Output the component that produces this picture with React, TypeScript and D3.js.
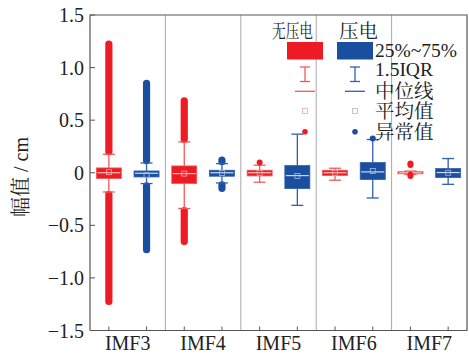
import React from 'react';
import * as d3 from 'd3';

const categories = ['IMF3', 'IMF4', 'IMF5', 'IMF6', 'IMF7'];
const seriesNames = ['无压电', '压电'];
const seriesColors = ['#ED1C24', '#1A4F9F'];
const whiskerColors = ['#F25A5A', '#2F5FAE'];
const medianColors = ['#F9C4C4', '#CFDBF2'];
const meanColors = ['#F7A8A8', '#A9B8E0'];

// 无压电 (red)
const redWhiskerLow = [-0.183, -0.34, -0.09, -0.071, -0.016];
const redQ1 = [-0.055, -0.103, -0.03, -0.027, -0.01];
const redMedian = [0, -0.008, 0, 0, 0];
const redQ3 = [0.046, 0.065, 0.024, 0.024, 0.01];
const redWhiskerHigh = [0.176, 0.293, 0.072, 0.043, 0.016];
const redMean = [0.005, -0.008, 0, 0, 0];
const redOutlierBands = [[[0.195, 1.23], [-1.23, -0.2]], [[0.31, 0.69], [-0.66, -0.355]], [], [], []];
const redOutliers = [[], [], [0.097], [], [0.088, 0.074, -0.02, -0.03]];

// 压电 (blue)
const blueWhiskerLow = [-0.103, -0.097, -0.31, -0.24, -0.11];
const blueQ1 = [-0.04, -0.033, -0.151, -0.065, -0.046];
const blueMedian = [-0.005, 0, -0.027, 0.008, 0.002];
const blueQ3 = [0.017, 0.024, 0.068, 0.097, 0.04];
const blueWhiskerHigh = [0.093, 0.087, 0.367, 0.316, 0.135];
const blueMean = [-0.024, -0.003, -0.03, 0.017, 0];
const blueOutlierBands = [[[0.11, 0.855], [-0.738, -0.12]], [[0.1, 0.126], [-0.154, -0.11]], [], [], []];
const blueOutliers = [[], [], [], [0.326], []];

const yTicks = [-1.5, -1.0, -0.5, 0, 0.5, 1.0, 1.5];
const yTickLabels = ['−1.5', '−1.0', '−0.5', '0', '0.5', '1.0', '1.5'];
const legendLabels = ['25%~75%', '1.5IQR', '中位线', '平均值', '异常值'];

const W = 469, H = 354;
const M = { left: 90, right: 467, top: 15, bottom: 330.5 };
const FONT = '"Liberation Serif", "Times New Roman", "Noto Serif CJK SC", "Noto Sans CJK SC", serif';

const stats = [
  { wl: redWhiskerLow, q1: redQ1, med: redMedian, q3: redQ3, wh: redWhiskerHigh, mean: redMean, bands: redOutlierBands, pts: redOutliers },
  { wl: blueWhiskerLow, q1: blueQ1, med: blueMedian, q3: blueQ3, wh: blueWhiskerHigh, mean: blueMean, bands: blueOutlierBands, pts: blueOutliers },
];

export default function App() {
  const x = d3.scaleBand<string>().domain(categories).range([M.left, M.right]).padding(0);
  const xs = d3.scalePoint<string>().domain(seriesNames).range([0, x.bandwidth()]).padding(0.5);
  const y = d3.scaleLinear().domain([-1.5, 1.5]).range([M.bottom, M.top]);
  const boxW = 25;
  const capW = 12;

  const boxes: React.ReactNode[] = [];
  categories.forEach((c, ci) => {
    seriesNames.forEach((s, si) => {
      const st = stats[si];
      const cx = (x(c) as number) + (xs(s) as number);
      const col = seriesColors[si];
      const wc = whiskerColors[si];
      const key = `${ci}-${si}`;
      (st.bands[ci] as number[][]).forEach((b, bi) => {
        const y0 = y(Math.max(b[0], b[1]));
        const y1 = y(Math.min(b[0], b[1]));
        boxes.push(<rect key={`band${key}-${bi}`} x={cx - 3.6} y={y0 - 3} width={7.2} height={y1 - y0 + 6} rx={3.6} fill={col} />);
      });
      boxes.push(
        <g key={`wh${key}`} stroke={wc} strokeWidth={1.3} fill="none">
          <line x1={cx} x2={cx} y1={y(st.wh[ci])} y2={y(st.q3[ci])} />
          <line x1={cx} x2={cx} y1={y(st.q1[ci])} y2={y(st.wl[ci])} />
          <line x1={cx - capW / 2} x2={cx + capW / 2} y1={y(st.wh[ci])} y2={y(st.wh[ci])} />
          <line x1={cx - capW / 2} x2={cx + capW / 2} y1={y(st.wl[ci])} y2={y(st.wl[ci])} />
        </g>
      );
      const yq3 = y(st.q3[ci]);
      const yq1 = y(st.q1[ci]);
      boxes.push(<rect key={`box${key}`} x={cx - boxW / 2} y={yq3} width={boxW} height={Math.max(yq1 - yq3, 1)} fill={col} stroke={wc} strokeWidth={0.8} />);
      boxes.push(<line key={`med${key}`} x1={cx - boxW / 2 + 1} x2={cx + boxW / 2 - 1} y1={y(st.med[ci])} y2={y(st.med[ci])} stroke={medianColors[si]} strokeWidth={1.2} />);
      boxes.push(<rect key={`mean${key}`} x={cx - 2.5} y={y(st.mean[ci]) - 2.5} width={5} height={5} fill="none" stroke={meanColors[si]} strokeWidth={0.8} />);
      (st.pts[ci] as number[]).forEach((v, pi) => {
        boxes.push(<circle key={`pt${key}-${pi}`} cx={cx} cy={y(v)} r={3} fill={col} />);
      });
    });
  });

  const separators = categories.slice(1).map((c) => x(c) as number);
  const legendX = [305, 355];

  return (
    <svg width={W} height={H} style={{ position: 'absolute', left: 0, top: 0, background: '#fff' }} fontFamily={FONT}>
      <rect x={0} y={0} width={W} height={H} fill="#fff" />
      {separators.map((sx, i) => (
        <line key={`sep${i}`} x1={sx} x2={sx} y1={M.top} y2={M.bottom} stroke="#A8A8A8" strokeWidth={1} />
      ))}
      <path d={`M${M.left},${M.bottom}V${M.top}H${M.right}V${M.bottom}H${M.left}`} fill="none" stroke="#555" strokeWidth={1.2} />
      {yTicks.map((t, i) => (
        <g key={`yt${i}`}>
          <line x1={M.left} x2={M.left + 5} y1={y(t)} y2={y(t)} stroke="#555" strokeWidth={1} />
          <text x={84} y={y(t)} dy="0.35em" textAnchor="end" fontSize={20} fill="#222">{yTickLabels[i]}</text>
        </g>
      ))}
      {categories.map((c) =>
        seriesNames.map((s) => {
          const tx = (x(c) as number) + (xs(s) as number);
          return <line key={`xt${c}${s}`} x1={tx} x2={tx} y1={M.bottom} y2={M.bottom - 4} stroke="#555" strokeWidth={1} />;
        })
      )}
      {categories.map((c) => (
        <text key={`xl${c}`} x={(x(c) as number) + x.bandwidth() / 2} y={350} textAnchor="middle" fontSize={20} fill="#222">{c}</text>
      ))}
      <text transform={`translate(28,177) rotate(-90)`} textAnchor="middle" fontSize={20} fill="#222">幅值 / cm</text>
      {boxes}
      <text x={292.5} y={38} textAnchor="middle" fontSize={19} fill="#222" textLength={41} lengthAdjust="spacingAndGlyphs">{seriesNames[0]}</text>
      <text x={358.5} y={38} textAnchor="middle" fontSize={19} fill="#222" textLength={39} lengthAdjust="spacingAndGlyphs">{seriesNames[1]}</text>
      {legendX.map((lx, i) => (
        <g key={`lg${i}`}>
          <rect x={lx - 18} y={42} width={36} height={17.5} fill={seriesColors[i]} />
          <g stroke={whiskerColors[i]} strokeWidth={1.3}>
            <line x1={lx} x2={lx} y1={67} y2={81.5} />
            <line x1={lx - 5} x2={lx + 5} y1={67} y2={67} />
            <line x1={lx - 5} x2={lx + 5} y1={81.5} y2={81.5} />
          </g>
          <line x1={lx - 10} x2={lx + 10} y1={91.3} y2={91.3} stroke={whiskerColors[i]} strokeWidth={1.3} />
          <rect x={lx - 2.5} y={108.5} width={5} height={5} fill="none" stroke={meanColors[i]} strokeWidth={0.8} />
          <circle cx={lx} cy={131.7} r={2.8} fill={seriesColors[i]} />
        </g>
      ))}
      {legendLabels.map((l, i) => (
        <text key={`ll${i}`} x={375} y={[57, 76, 97.5, 118, 138.5][i]} fontSize={19.5} fill="#222">{l}</text>
      ))}
    </svg>
  );
}
